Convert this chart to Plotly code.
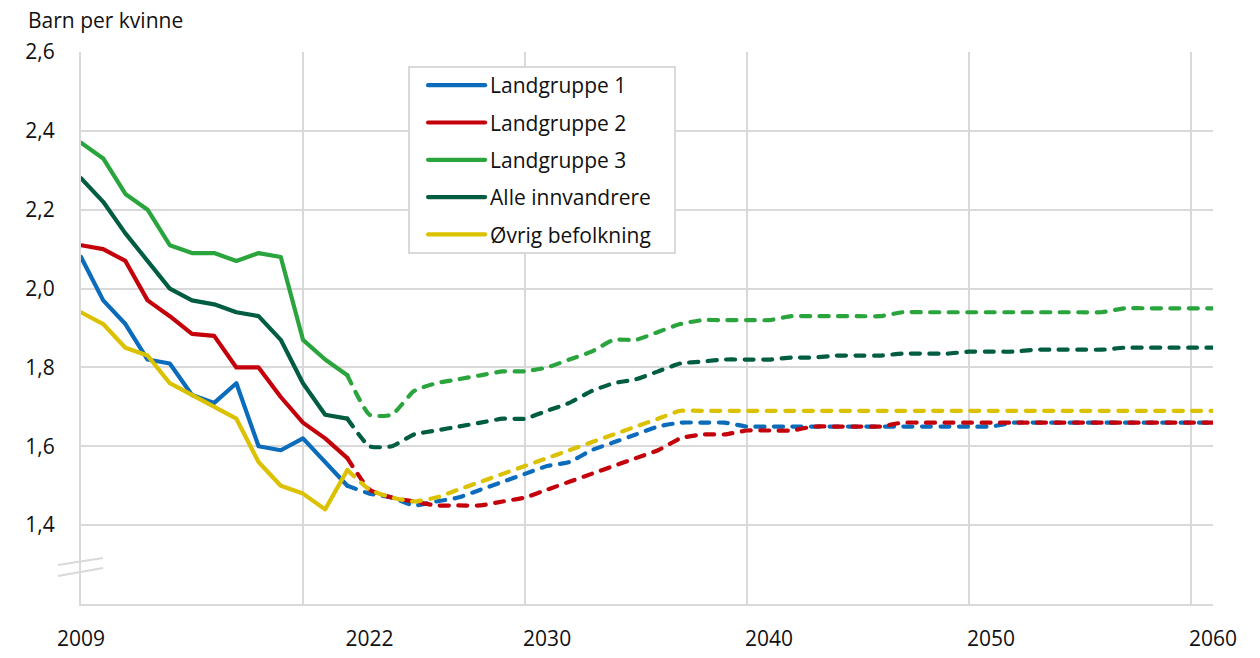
import plotly.graph_objects as go

# ---------------- data ----------------
years_hist = list(range(2009, 2022))
years_proj = list(range(2021, 2061))

tick_years = [2009, 2022, 2030, 2040, 2050, 2060]
tick_text = ["2009", "2022", "2030", "2040", "2050", "2060"]
grid_years = [2019, 2029, 2039, 2049, 2059]
y_ticks = [1.4, 1.6, 1.8, 2.0, 2.2, 2.4, 2.6]

names = ["Landgruppe 1", "Landgruppe 2", "Landgruppe 3", "Alle innvandrere", "Øvrig befolkning"]

l1_hist = [2.08, 1.97, 1.91, 1.82, 1.81, 1.73, 1.71, 1.76, 1.60, 1.59, 1.62, 1.56, 1.50]
l2_hist = [2.11, 2.10, 2.07, 1.97, 1.93, 1.885, 1.88, 1.80, 1.80, 1.725, 1.66, 1.62, 1.57]
l3_hist = [2.37, 2.33, 2.24, 2.20, 2.11, 2.09, 2.09, 2.07, 2.09, 2.08, 1.87, 1.82, 1.78]
alle_hist = [2.28, 2.22, 2.14, 2.07, 2.00, 1.97, 1.96, 1.94, 1.93, 1.87, 1.76, 1.68, 1.67]
ovrig_hist = [1.94, 1.91, 1.85, 1.83, 1.76, 1.73, 1.70, 1.67, 1.56, 1.50, 1.48, 1.44, 1.54]

l1_proj = [1.50, 1.48, 1.47, 1.45, 1.46, 1.47, 1.49, 1.51, 1.53, 1.55,
           1.56, 1.59, 1.61, 1.63, 1.65, 1.66, 1.66, 1.66, 1.65, 1.65,
           1.65, 1.65, 1.65, 1.65, 1.65, 1.65, 1.65, 1.65, 1.65, 1.65,
           1.66, 1.66, 1.66, 1.66, 1.66, 1.66, 1.66, 1.66, 1.66, 1.66]
l2_proj = [1.57, 1.49, 1.47, 1.46, 1.45, 1.45, 1.45, 1.46, 1.47, 1.49,
           1.51, 1.53, 1.55, 1.57, 1.59, 1.62, 1.63, 1.63, 1.64, 1.64,
           1.64, 1.65, 1.65, 1.65, 1.65, 1.66, 1.66, 1.66, 1.66, 1.66,
           1.66, 1.66, 1.66, 1.66, 1.66, 1.66, 1.66, 1.66, 1.66, 1.66]
l3_proj = [1.78, 1.68, 1.68, 1.74, 1.76, 1.77, 1.78, 1.79, 1.79, 1.80,
           1.82, 1.84, 1.87, 1.87, 1.89, 1.91, 1.92, 1.92, 1.92, 1.92,
           1.93, 1.93, 1.93, 1.93, 1.93, 1.94, 1.94, 1.94, 1.94, 1.94,
           1.94, 1.94, 1.94, 1.94, 1.94, 1.95, 1.95, 1.95, 1.95, 1.95]
alle_proj = [1.67, 1.60, 1.60, 1.63, 1.64, 1.65, 1.66, 1.67, 1.67, 1.69,
             1.71, 1.74, 1.76, 1.77, 1.79, 1.81, 1.815, 1.82, 1.82, 1.82,
             1.825, 1.825, 1.83, 1.83, 1.83, 1.835, 1.835, 1.835, 1.84, 1.84,
             1.84, 1.845, 1.845, 1.845, 1.845, 1.85, 1.85, 1.85, 1.85, 1.85]
ovrig_proj = [1.54, 1.49, 1.47, 1.46, 1.47, 1.49, 1.51, 1.53, 1.55, 1.57,
              1.59, 1.61, 1.63, 1.65, 1.67, 1.69, 1.69, 1.69, 1.69, 1.69,
              1.69, 1.69, 1.69, 1.69, 1.69, 1.69, 1.69, 1.69, 1.69, 1.69,
              1.69, 1.69, 1.69, 1.69, 1.69, 1.69, 1.69, 1.69, 1.69, 1.69]

hist = [l1_hist, l2_hist, l3_hist, alle_hist, ovrig_hist]
proj = [l1_proj, l2_proj, l3_proj, alle_proj, ovrig_proj]
colors = ["#0a6cbb", "#c4000a", "#2aa43c", "#005d42", "#dbc100"]

# ---------------- figure ----------------
FONT = "Open Sans, Noto Sans, sans-serif"
GRID = "#d9d9d9"
LW = 4.2
FS = 21

fig = go.Figure()
for i, name in enumerate(names):
    fig.add_trace(go.Scatter(
        x=years_hist, y=hist[i], mode="lines", name=name,
        legendgroup=name, line=dict(color=colors[i], width=LW),
        hoverinfo="x+y+name"))
    fig.add_trace(go.Scatter(
        x=years_proj, y=proj[i], mode="lines", name=name + " (fremskrevet)",
        legendgroup=name, showlegend=False,
        line=dict(color=colors[i], width=LW, dash="9px,9.5px",
                  shape="spline", smoothing=0.5)))

fig.update_layout(
    width=1260, height=658,
    margin=dict(l=81, r=47, t=52, b=54, autoexpand=False),
    paper_bgcolor="white", plot_bgcolor="white",
    font=dict(family=FONT, size=FS, color="#111111"),
    separators=", ",
    showlegend=True,
    legend=dict(
        x=0.3022, y=0.9764, xanchor="left", yanchor="top",
        bgcolor="rgba(0,0,0,0)", borderwidth=0,
        font=dict(family=FONT, size=FS, color="#111111"),
        traceorder="grouped", tracegroupgap=7, itemwidth=57,
    ),
    xaxis=dict(
        range=[2009, 2060], tickmode="array", tickvals=tick_years, ticktext=tick_text,
        showgrid=False, zeroline=False, showline=True, linecolor=GRID, linewidth=2,
        ticks="", ticklabelstandoff=15, automargin=False,
        minor=dict(tickmode="array", tickvals=grid_years, showgrid=True,
                   gridcolor=GRID, gridwidth=2, ticks=""),
    ),
    yaxis=dict(
        range=[1.2, 2.6], tickmode="array", tickvals=y_ticks, tickformat=".1f",
        showgrid=True, gridcolor=GRID, gridwidth=2, zeroline=False,
        showline=True, linecolor=GRID, linewidth=2, ticks="", ticklabelstandoff=20,
        automargin=False,
    ),
    annotations=[dict(
        text="Barn per kvinne", xref="paper", yref="paper",
        x=-0.0486, y=1.058, xanchor="left", yanchor="middle", showarrow=False,
        font=dict(family=FONT, size=FS, color="#111111"),
    )],
    shapes=[
        # legend box (opaque, covers gridlines)
        dict(type="rect", xref="paper", yref="paper", layer="above",
             x0=0.2898, x1=0.5247, y0=0.6359, y1=0.9728,
             fillcolor="white", line=dict(color=GRID, width=2)),
        # axis break marks
        dict(type="line", xref="paper", yref="paper",
             x0=-0.0203, y0=0.0707, x1=0.0194, y1=0.0833,
             line=dict(color=GRID, width=2)),
        dict(type="line", xref="paper", yref="paper",
             x0=-0.0203, y0=0.0507, x1=0.0194, y1=0.0652,
             line=dict(color=GRID, width=2)),
    ],
)

post = (
    "document.body.style.margin='0';document.body.style.padding='0';"
    "var s=document.createElement('style');"
    "s.textContent='.js-line{stroke-linecap:round;stroke-linejoin:round;}';"
    "document.head.appendChild(s);"
)

fig.write_html("out.html", config={"displayModeBar": False}, post_script=post)
